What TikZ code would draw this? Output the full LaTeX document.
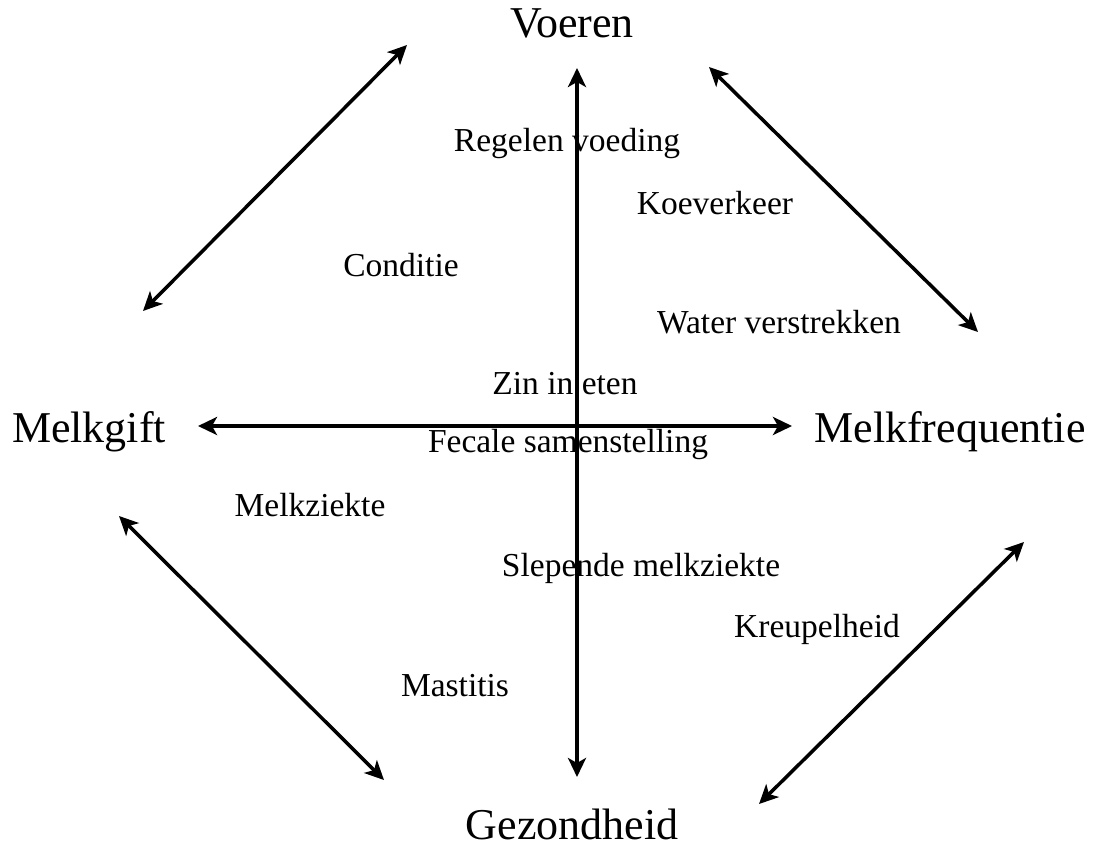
\documentclass[tikz,border=0pt]{standalone}
\usepackage{fontspec}
\setmainfont{Liberation Serif}
\usetikzlibrary{arrows.meta}
\tikzset{
  pole/.style={
    anchor=base,
    inner sep=0pt,
    font=\fontsize{44}{50}\selectfont
  },
  factor/.style={
    anchor=base,
    inner sep=0pt,
    font=\fontsize{33.5}{38}\selectfont
  },
  link/.style={
    line width=3.5pt,
    {Stealth[length=19pt,width=18pt,inset=5pt]}-{Stealth[length=19pt,width=18pt,inset=5pt]}
  }
}
\begin{document}
\begin{tikzpicture}[x=1pt,y=-1pt]
            \useasboundingbox (0,0) rectangle (1095,848);
            % hoofdthema's
            \node[pole] (voeren) at (572,38) {Voeren};
            \node[pole] (gift) at (89,442) {Melkgift};
            \node[pole] (freq) at (950,442) {Melkfrequentie};
            \node[pole] (gezond) at (572,839) {Gezondheid};
            % factoren
            \node[factor] (regelen) at (567,152) {Regelen voeding};
            \node[factor] (verkeer) at (715,214) {Koeverkeer};
            \node[factor] (conditie) at (401,276) {Conditie};
            \node[factor] (water) at (779,333) {Water verstrekken};
            \node[factor] (zin) at (565,394) {Zin in eten};
            \node[factor] (fecaal) at (568,452) {Fecale samenstelling};
            \node[factor] (ziekte) at (310,516) {Melkziekte};
            \node[factor] (slepend) at (641,576) {Slepende melkziekte};
            \node[factor] (kreupel) at (817,637) {Kreupelheid};
            \node[factor] (mastitis) at (455,696) {Mastitis};
            % pijlen
            \coordinate (vt) at (577,68);
            \coordinate (vb) at (577,777);
            \coordinate (hl) at (198,426);
            \coordinate (hr) at (792,426);
            \coordinate (a1) at (143,311);
            \coordinate (a2) at (407,45);
            \coordinate (b1) at (709,67);
            \coordinate (b2) at (978,332);
            \coordinate (c1) at (119,516);
            \coordinate (c2) at (384,780);
            \coordinate (d1) at (1024,542);
            \coordinate (d2) at (759,804);
            \draw[link] (vt)--(vb);
            \draw[link] (hl)--(hr);
            \draw[link] (a1)--(a2);
            \draw[link] (b1)--(b2);
            \draw[link] (c1)--(c2);
            \draw[link] (d1)--(d2);
\end{tikzpicture}
\end{document}
